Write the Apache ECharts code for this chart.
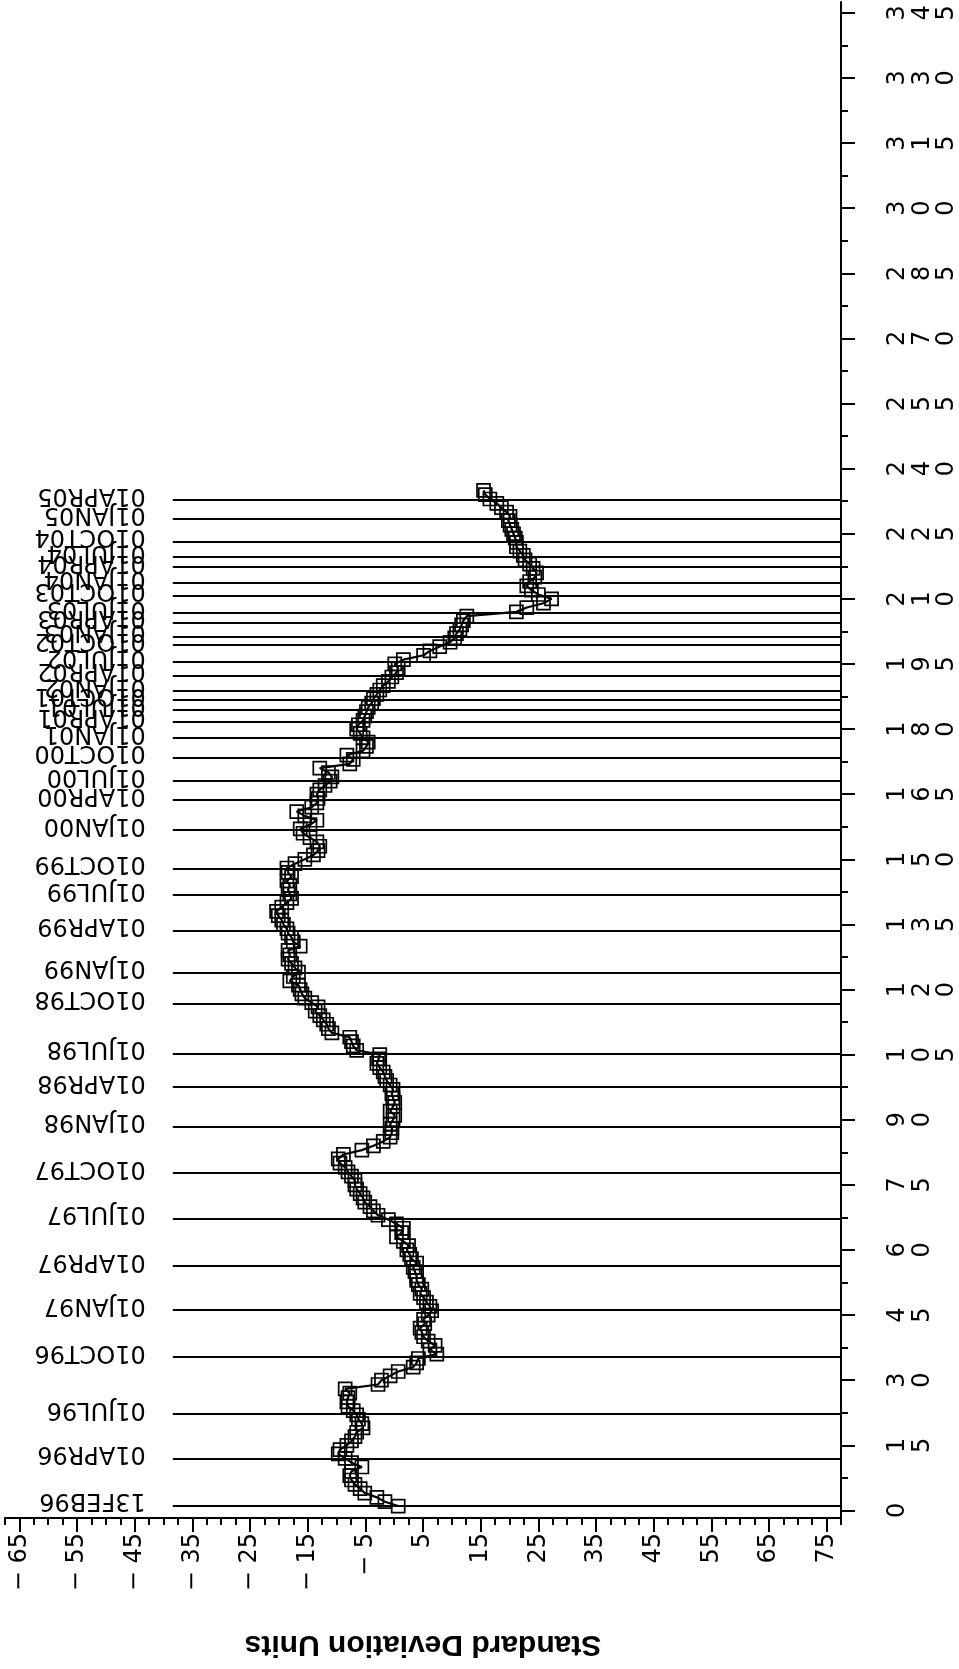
<!DOCTYPE html>
<html>
<head>
<meta charset="utf-8">
<script src="https://cdn.jsdelivr.net/npm/echarts@6/dist/echarts.min.js"></script>
<style>
  html, body { margin: 0; padding: 0; background: #fff; }
  #chart { width: 959px; height: 1669px; }
</style>
</head>
<body>
<div id="chart"></div>
<script>
// Standard deviation units, one value per observation (observation 1, 2, 3, ...)
const sdUnits = [
  0.7, -1.6, -3.0, -5.1, -5.9, -6.8, -7.4, -7.7, -7.4, -5.6,
  -7.4, -8.5, -9.7, -9.4, -8.2, -7.4, -6.8, -6.5, -5.4, -5.6,
  -6.2, -6.5, -7.1, -8.0, -8.2, -8.0, -7.7, -8.5, -2.8, -2.2,
  -0.7, 0.7, 3.3, 3.9, 4.2, 7.4, 6.2, 7.1, 5.9, 5.1,
  4.8, 4.5, 5.3, 5.1, 5.9, 6.5, 6.2, 5.6, 5.1, 4.5,
  4.8, 4.2, 3.9, 3.9, 3.6, 3.3, 3.9, 3.0, 2.7, 2.2,
  2.5, 1.6, 0.4, 1.3, 1.6, 0.4, -1.0, -2.8, -3.6, -4.2,
  -5.1, -5.4, -5.9, -6.5, -6.8, -6.8, -7.4, -8.0, -8.5, -9.4,
  -9.7, -8.8, -5.6, -3.6, -1.9, -0.7, -0.4, -0.4, -0.7, -0.2,
  0.1, -0.7, -0.2, 0.1, -0.2, -0.4, -0.2, -0.7, -1.3, -1.6,
  -1.9, -2.5, -3.0, -2.7, -2.5, -6.5, -7.1, -7.4, -7.7, -10.8,
  -11.4, -11.7, -12.3, -12.9, -13.7, -13.2, -14.3, -15.5, -16.0, -16.3,
  -16.6, -18.1, -17.5, -16.6, -17.2, -17.8, -18.4, -18.1, -18.4, -16.3,
  -17.5, -17.8, -18.4, -18.6, -19.2, -19.5, -20.1, -20.4, -19.5, -18.6,
  -17.8, -18.1, -18.4, -18.1, -18.6, -17.8, -18.4, -18.6, -17.2, -15.5,
  -14.0, -13.2, -12.9, -13.4, -14.6, -15.8, -16.3, -14.6, -13.4, -15.5,
  -16.9, -14.3, -13.4, -13.2, -13.4, -12.9, -12.0, -11.1, -10.8, -11.4,
  -12.9, -7.7, -7.1, -8.2, -5.4, -4.8, -4.5, -5.4, -5.9, -6.5,
  -6.2, -5.4, -5.1, -4.8, -4.5, -3.9, -3.6, -3.0, -2.5, -1.9,
  -1.0, -0.4, 0.4, 0.7, 0.1, 1.6, 5.1, 6.2, 7.9, 9.7,
  10.5, 10.8, 11.4, 11.7, 12.0, 12.6, 21.2, 23.0, 25.9, 27.3,
  25.0, 23.8, 23.0, 23.5, 24.4, 24.7, 24.1, 23.5, 22.7, 22.4,
  21.8, 21.2, 21.2, 21.0, 20.7, 20.4, 20.1, 19.8, 20.1, 19.5,
  18.6, 17.8, 16.6, 15.8, 15.5
];

// Reference dates and the observation number each one falls on
const refDates = [
  '13FEB96', '01APR96', '01JUL96', '01OCT96', '01JAN97', '01APR97', '01JUL97', '01OCT97',
  '01JAN98', '01APR98', '01JUL98', '01OCT98', '01JAN99', '01APR99', '01JUL99', '01OCT99',
  '01JAN00', '01APR00', '01JUL00', '01OCT00', '01JAN01', '01APR01', '01JUL01', '01OCT01',
  '01JAN02', '01APR02', '01JUL02', '01OCT02', '01JAN03', '01APR03', '01JUL03', '01OCT03',
  '01JAN04', '01APR04', '01JUL04', '01OCT04', '01JAN05', '01APR05'
];
const refObs = [
  1.1, 12.0, 22.2, 35.4, 46.2, 56.3, 67.3, 77.7,
  88.4, 97.6, 105.3, 116.8, 123.9, 133.6, 141.8, 147.9,
  156.8, 163.7, 168.0, 173.5, 178.0, 181.7, 184.4, 186.7,
  188.8, 192.3, 195.5, 199.4, 201.3, 204.6, 206.8, 210.8,
  213.6, 217.3, 219.6, 223.2, 228.4, 232.8
];

// Tick values and their labels
const xTickValues = [-65, -55, -45, -35, -25, -15, -5, 5, 15, 25, 35, 45, 55, 65, 75];
const xTickLabels = ['\u2212 65', '\u2212 55', '\u2212 45', '\u2212 35', '\u2212 25', '\u2212 15', '\u2212 5',
                     '5', '15', '25', '35', '45', '55', '65', '75'];
const yTickValues = [0, 15, 30, 45, 60, 75, 90, 105, 120, 135, 150, 165, 180, 195, 210, 225,
                     240, 255, 270, 285, 300, 315, 330, 345];
const yTickLabels = ['0', '15', '30', '45', '60', '75', '90', '105', '120', '135', '150', '165',
                     '180', '195', '210', '225', '240', '255', '270', '285', '300', '315', '330', '345'];

// Axis extents
const X_MIN = -67.5, X_MAX = 77.5;
const Y_MIN = -1.75, Y_MAX = 347.5;
// Reference lines begin at this standard-deviation value and run to the right axis
const REF_START = -38.4;

const FONT = '"DejaVu Sans", "Liberation Sans", sans-serif';
const TITLE_FONT = '"Liberation Sans", Arial, sans-serif';

function steps(from, to, step) {
  const out = [];
  for (let v = from; v <= to + 1e-9; v += step) out.push(Math.round(v * 100) / 100);
  return out;
}
const xMinorTicks = steps(X_MIN, X_MAX, 2.5);
const yMinorTicks = steps(0, 345, 7.5);

const points = sdUnits.map((v, i) => [v, i + 1]);

const chart = echarts.init(document.getElementById('chart'), null, {
  renderer: 'canvas', width: 959, height: 1669
});

const axisStroke = { color: '#000', width: 2 };

const option = {
  animation: false,
  backgroundColor: '#fff',
  grid: { left: 5, right: 118, top: 2, bottom: 151, containLabel: false, outerBoundsMode: 'none' },
  xAxis: [
    {
      type: 'value', min: X_MIN, max: X_MAX, position: 'bottom',
      axisLine: { show: true, onZero: false, lineStyle: axisStroke },
      axisTick: { show: true, length: 7, customValues: xMinorTicks, lineStyle: axisStroke },
      axisLabel: { show: false },
      splitLine: { show: false }
    },
    {
      type: 'value', min: X_MIN, max: X_MAX, position: 'bottom',
      axisLine: { show: false, onZero: false },
      axisTick: { show: true, length: 14, customValues: xTickValues, lineStyle: axisStroke },
      axisLabel: {
        show: true, customValues: xTickValues, rotate: 90, align: 'right', verticalAlign: 'middle',
        margin: 15, color: '#000', fontFamily: FONT, fontSize: 24,
        formatter: v => { const i = xTickValues.indexOf(v); return i >= 0 ? xTickLabels[i] : ''; }
      },
      splitLine: { show: false }
    }
  ],
  yAxis: [
    {
      type: 'value', min: Y_MIN, max: Y_MAX, position: 'right',
      axisLine: { show: true, onZero: false, lineStyle: axisStroke },
      axisTick: { show: true, length: 7, customValues: yMinorTicks, lineStyle: axisStroke },
      axisLabel: { show: false },
      splitLine: { show: false }
    },
    {
      type: 'value', min: Y_MIN, max: Y_MAX, position: 'right',
      axisLine: { show: false, onZero: false },
      axisTick: { show: true, length: 14, customValues: yTickValues, lineStyle: axisStroke },
      axisLabel: {
        show: true, customValues: yTickValues, rotate: 90, align: 'center', verticalAlign: 'top',
        margin: 45, lineHeight: 24.5, color: '#000', fontFamily: FONT, fontSize: 24,
        formatter: v => { const i = yTickValues.indexOf(v); return i >= 0 ? yTickLabels[i].split('').join('\n') : ''; }
      },
      splitLine: { show: false }
    }
  ],
  series: [
    {
      type: 'line',
      xAxisIndex: 0, yAxisIndex: 0,
      data: points,
      symbol: 'rect', symbolSize: 13, showAllSymbol: true,
      itemStyle: { color: 'rgba(0,0,0,0)', borderColor: '#000', borderWidth: 1.7 },
      lineStyle: { color: '#000', width: 2.2 },
      emphasis: { disabled: true },
      z: 3,
      markLine: {
        silent: true,
        symbol: ['none', 'none'],
        label: { show: false },
        lineStyle: { color: '#000', width: 2, type: 'solid' },
        data: refObs.map(o => [{ coord: [REF_START, o] }, { coord: [X_MAX, o] }])
      }
    }
  ]
};

chart.setOption(option);

// Date captions beside each reference line and the axis title, both turned upside down
const dateTexts = refDates.map((d, i) => {
  const p = chart.convertToPixel({ xAxisIndex: 0, yAxisIndex: 0 }, [REF_START, refObs[i]]);
  return {
    type: 'text', x: p[0] - 27, y: p[1] - 5, rotation: Math.PI, silent: true,
    style: { text: d, fill: '#000', font: '24px ' + FONT, align: 'left', verticalAlign: 'middle' }
  };
});
const left = chart.convertToPixel({ xAxisIndex: 0 }, X_MIN);
const right = chart.convertToPixel({ xAxisIndex: 0 }, X_MAX);
const axisY = chart.convertToPixel({ yAxisIndex: 0 }, Y_MIN);
const titleText = {
  type: 'text', x: (left + right) / 2, y: axisY + 126, rotation: Math.PI, silent: true,
  style: { text: 'Standard Deviation Units', fill: '#000', font: 'bold 30px ' + TITLE_FONT,
           align: 'center', verticalAlign: 'middle' }
};
chart.setOption({ graphic: { elements: dateTexts.concat([titleText]) } });
</script>
</body>
</html>
